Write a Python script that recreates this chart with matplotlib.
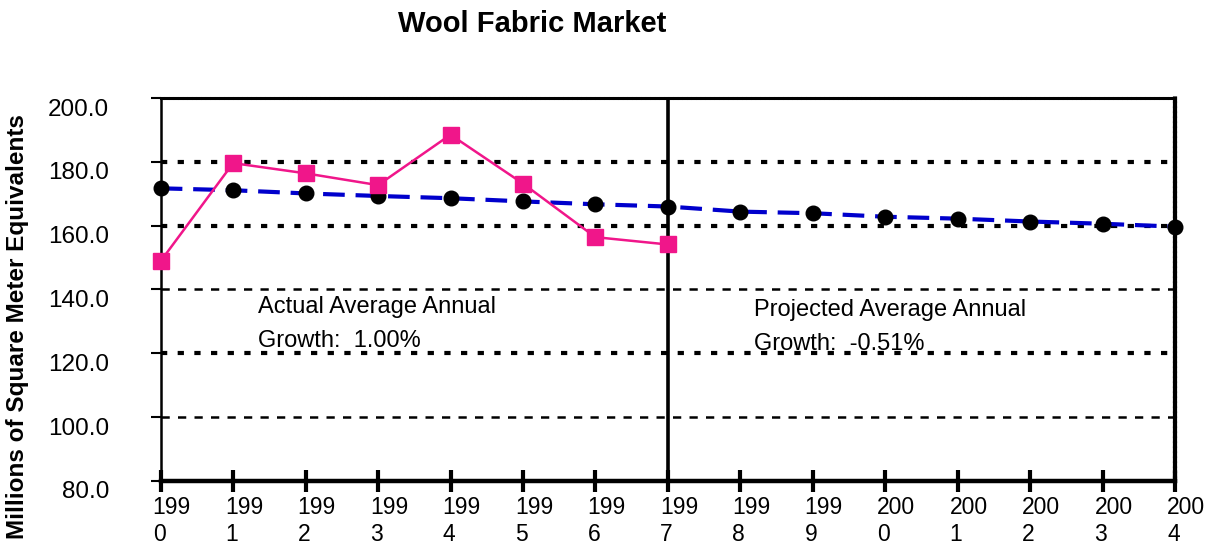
import matplotlib
matplotlib.use("Agg")
import matplotlib.pyplot as plt
import matplotlib.transforms as mtransforms

plt.rcParams['font.family'] = ['Liberation Sans', 'DejaVu Sans']

# data
years = list(range(1990, 2005))
actual_years = list(range(1990, 1998))
actual = [148.9, 179.6, 176.4, 172.7, 188.5, 173.2, 156.4, 154.1]
trend = [171.7, 171.1, 170.1, 169.3, 168.6, 167.6, 166.7, 166.0,
         164.4, 163.9, 162.8, 162.2, 161.3, 160.6, 159.7]
year_labels = [str(y)[:3] + "\n" + str(y)[3] for y in years]
yticks = [80, 100, 120, 140, 160, 180, 200]

W, H = 1214, 545
fig = plt.figure(figsize=(W / 100, H / 100), dpi=100)
ax = fig.add_axes([160.7 / W, 1 - 481 / H, (1175 - 160.7) / W, (481 - 98) / H])

ax.set_xlim(1990, 2004)
ax.set_ylim(80, 200)

# horizontal grid lines, heavy dots for some, lighter dashes for others
for v in [100, 140]:
    ax.axhline(v, color='black', lw=1.8, dashes=(3.3, 3.3), zorder=1)
for v in [120, 160, 180]:
    ax.axhline(v, color='black', lw=3.0, dashes=(1.5, 2.5), zorder=1)

# divider between actual and projected
ax.axvline(1997, color='black', lw=2.6, zorder=2)

# trend line
ax.plot(years, trend, color='#0000CC', lw=3, dashes=(5.2, 2.6), zorder=3,
        clip_on=False)
ax.plot(years, trend, ls='none', marker='o', ms=10.5, color='black',
        zorder=4, clip_on=False)

# actual line
ax.plot(actual_years, actual, color='#F0168A', lw=1.8, marker='s', ms=11,
        zorder=5, clip_on=False)

# spines
ax.spines['bottom'].set_linewidth(3.2)
ax.spines['left'].set_linewidth(1.8)
ax.spines['top'].set_linewidth(2.2)
ax.spines['top'].set_linestyle((0, (0.6, 0.9)))
ax.spines['right'].set_linewidth(3.0)
ax.spines['right'].set_linestyle((0, (0.6, 0.6)))

ax.set_xticks(years)
ax.set_xticklabels(year_labels, fontsize=16.5, ha='left', va='top',
                   linespacing=1.2)
ax.tick_params(axis='x', direction='inout', length=16, width=3, pad=3)
off = mtransforms.ScaledTranslation(-8 / 100, 0, fig.dpi_scale_trans)
for lbl in ax.get_xticklabels():
    lbl.set_transform(lbl.get_transform() + off)

ax.set_yticks(yticks)
ax.set_yticklabels(["%.1f" % v for v in yticks], fontsize=17.5)
ax.tick_params(axis='y', direction='out', length=7, width=1.5, pad=30)
offy = mtransforms.ScaledTranslation(0, -9 / 100, fig.dpi_scale_trans)
for lbl in ax.get_yticklabels():
    lbl.set_transform(lbl.get_transform() + offy)

ax.text(1991.34, 132.7, "Actual Average Annual", fontsize=17, va='baseline')
ax.text(1991.34, 122.0, "Growth:  1.00%", fontsize=17, va='baseline')
ax.text(1998.19, 131.7, "Projected Average Annual", fontsize=17,
        va='baseline')
ax.text(1998.19, 121.1, "Growth:  -0.51%", fontsize=17, va='baseline')

fig.text(532 / W, 1 - 32 / H, "Wool Fabric Market", fontsize=21,
         fontweight='bold', ha='center', va='baseline')
fig.text(18 / W, 1 - 327 / H, "Millions of Square Meter Equivalents",
         fontsize=17.5, fontweight='bold', rotation=90, ha='center',
         va='center')

fig.savefig("out.png", dpi=100)
